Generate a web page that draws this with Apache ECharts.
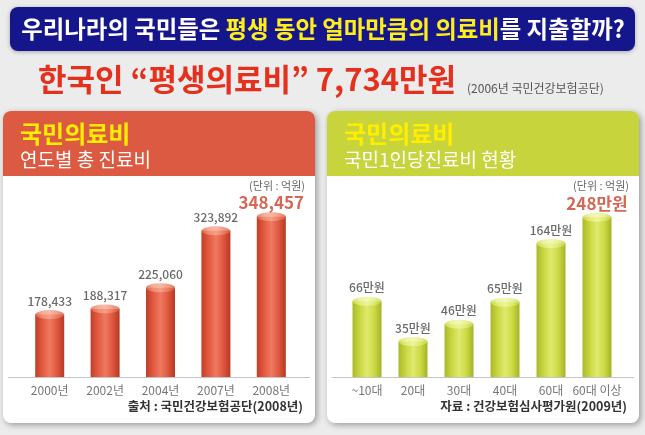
<!DOCTYPE html>
<html>
<head>
<meta charset="utf-8">
<script src="https://cdn.jsdelivr.net/npm/echarts@6/dist/echarts.min.js"></script>
<style>
  html, body { margin: 0; padding: 0; background: #ececec; }
  #main { width: 645px; height: 435px; }
</style>
</head>
<body>
<div id="main"></div>
<script>
// 연도별 총 진료비 (단위: 억원)
const years = ['2000년', '2002년', '2004년', '2007년', '2008년']
const totalCost = [178433, 188317, 225060, 323892, 348457]
// 국민 1인당 진료비 (단위: 만원)
const ageGroups = ['~10대', '20대', '30대', '40대', '60대', '60대 이상']
const perPerson = [66, 35, 46, 65, 164, 248]

const FONT = '"Noto Sans CJK KR", "Noto Sans", sans-serif'
const myChart = echarts.init(document.getElementById('main'))

function hGrad(stops) {
  return new echarts.graphic.LinearGradient(0, 0, 1, 0, stops.map((c, i) => ({ offset: i / (stops.length - 1), color: c })))
}

// 원통 막대 + 윗면 타원
function cylinder(idx, data, side, top, labelFmt, bigColor) {
  const last = data.length - 1
  return [
    {
      type: 'bar',
      xAxisIndex: idx,
      yAxisIndex: idx,
      barWidth: 29,
      clip: true,
      itemStyle: { color: hGrad(side) },
      data: data,
      z: 2
    },
    {
      type: 'scatter',
      xAxisIndex: idx,
      yAxisIndex: idx,
      symbol: 'circle',
      symbolSize: [29, 9],
      itemStyle: { color: hGrad(top) },
      data: data.map((v, i) => ({
        value: v,
        label: i === last
          ? { fontSize: 17, fontWeight: 'bold', color: bigColor, distance: 1 }
          : {}
      })),
      label: {
        show: true,
        position: 'top',
        distance: 3,
        fontFamily: FONT,
        fontSize: 12,
        fontWeight: 500,
        color: '#444',
        formatter: labelFmt
      },
      z: 3
    }
  ]
}

function panel(x, headColor, title, subtitle, source) {
  return [
    {
      type: 'rect',
      shape: { x: x, y: 111, width: 312, height: 312, r: 8 },
      style: { fill: '#fff', shadowBlur: 6, shadowOffsetX: 2, shadowOffsetY: 2, shadowColor: 'rgba(0,0,0,0.35)' },
      z: 0
    },
    {
      type: 'rect',
      shape: { x: x, y: 111, width: 312, height: 65, r: [8, 8, 0, 0] },
      style: { fill: headColor },
      z: 1
    },
    {
      type: 'text',
      x: x + 17, y: 134,
      style: { text: title, fill: '#ffee00', font: 'bold 24px ' + FONT, verticalAlign: 'middle',
        shadowBlur: 3, shadowColor: 'rgba(0,0,0,0.45)', shadowOffsetX: 1, shadowOffsetY: 1 },
      z: 2
    },
    {
      type: 'text',
      x: x + 17, y: 160,
      style: { text: subtitle, fill: '#fff', font: '19px ' + FONT, verticalAlign: 'middle',
        shadowBlur: 3, shadowColor: 'rgba(0,0,0,0.4)', shadowOffsetX: 1, shadowOffsetY: 1 },
      z: 2
    },
    {
      type: 'text',
      x: x + 302, y: 186,
      style: { text: '(단위 : 억원)', fill: '#666', font: '11px ' + FONT, align: 'right', verticalAlign: 'middle' },
      z: 2
    },
    {
      type: 'line',
      shape: { x1: x + 5, y1: 377.5, x2: x + 307, y2: 377.5 },
      style: { stroke: '#c4c4c4', lineWidth: 1 },
      z: 1
    },
    {
      type: 'text',
      x: x + 300, y: 406,
      style: { text: source, fill: '#333', font: 'bold 12.5px ' + FONT, align: 'right', verticalAlign: 'middle' },
      z: 2
    }
  ]
}

const xAxisBase = {
  type: 'category',
  axisLine: { show: false },
  axisTick: { show: false },
  axisLabel: { color: '#777', fontSize: 12, fontFamily: FONT, margin: 7, interval: 0 }
}

myChart.setOption({
  backgroundColor: '#ececec',
  animation: false,
  grid: [
    { left: 22, top: 187, width: 277, height: 190 },
    { left: 344, top: 187, width: 276, height: 190 }
  ],
  xAxis: [
    Object.assign({ gridIndex: 0, data: years }, xAxisBase),
    Object.assign({ gridIndex: 1, data: ageGroups }, xAxisBase)
  ],
  yAxis: [
    { gridIndex: 0, type: 'value', min: 70000, max: 400000, show: false },
    { gridIndex: 1, type: 'log', min: 20, max: 400, show: false }
  ],
  graphic: [
    {
      type: 'rect',
      shape: { x: 10, y: 7, width: 625, height: 44, r: 8 },
      style: { fill: '#15168c', shadowBlur: 4, shadowColor: 'rgba(0,0,0,0.3)', shadowOffsetY: 1 }
    },
    {
      type: 'text',
      x: 323, y: 29,
      style: {
        text: '{w|우리나라의 국민들은 }{y|평생 동안 얼마만큼의 의료비}{w|를 지출할까?}',
        align: 'center',
        verticalAlign: 'middle',
        rich: {
          w: { fill: '#fff', fontSize: 23.4, fontWeight: 'bold', fontFamily: FONT },
          y: { fill: '#ffee1a', fontSize: 23.4, fontWeight: 'bold', fontFamily: FONT }
        }
      }
    },
    {
      type: 'text',
      x: 38, y: 79,
      style: {
        text: '한국인 “평생의료비” 7,734만원',
        fill: '#e4301c',
        font: 'bold 31px ' + FONT,
        verticalAlign: 'middle',
        shadowBlur: 2, shadowColor: 'rgba(0,0,0,0.25)', shadowOffsetX: 1, shadowOffsetY: 1
      }
    },
    {
      type: 'text',
      x: 467, y: 88,
      style: { text: '(2006년 국민건강보험공단)', fill: '#555', font: '12px ' + FONT, verticalAlign: 'middle' }
    }
  ]
    .concat(panel(3, '#dc5a42', '국민의료비', '연도별 총 진료비', '출처 : 국민건강보험공단(2008년)'))
    .concat(panel(327, '#c7d43c', '국민의료비', '국민1인당진료비 현황', '자료 : 건강보험심사평가원(2009년)')),
  series: []
    .concat(cylinder(0, totalCost,
      ['#c23d27', '#e25a40', '#ee7a60', '#e05840', '#b83822'],
      ['#e06850', '#f3987e', '#f6a88f', '#ee876c', '#d9603f'],
      p => p.value.toLocaleString('en-US'), '#c9412b'))
    .concat(cylinder(1, perPerson,
      ['#a9b92a', '#c8d740', '#dfea6e', '#ccdb44', '#a3b326'],
      ['#cfdd50', '#e9f18c', '#f1f6a4', '#e3ed7c', '#c7d648'],
      p => p.value + '만원', '#c9412b'))
})
</script>
</body>
</html>
